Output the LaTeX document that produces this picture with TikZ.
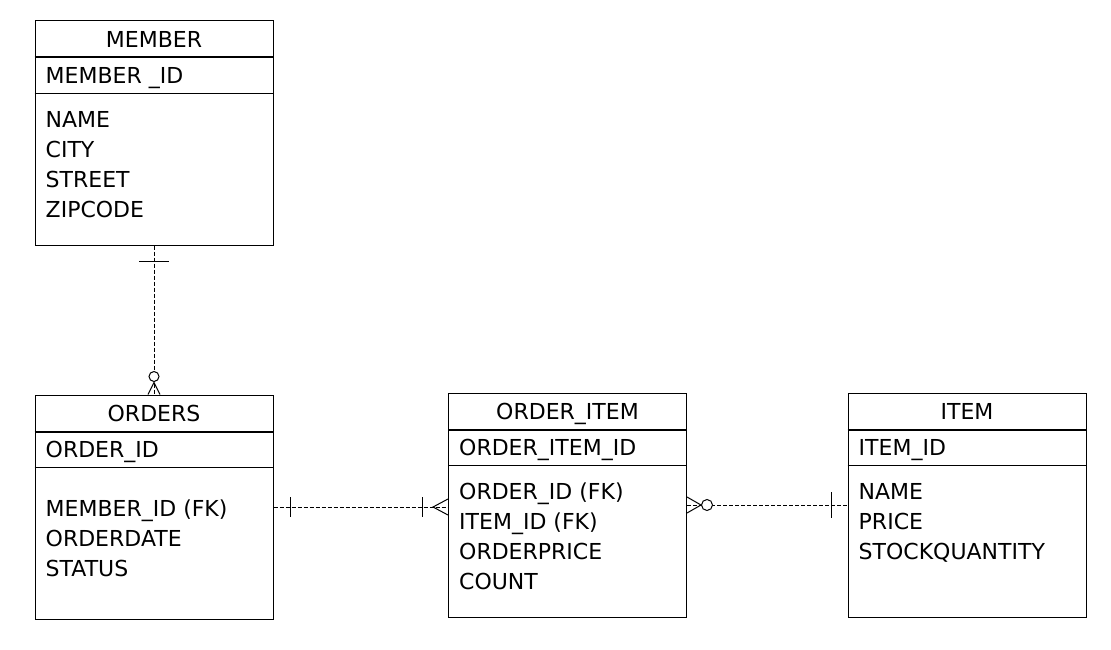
\documentclass[tikz,border=0pt]{standalone}
\usepackage{fontspec}
\setmainfont{DejaVu Sans}
\usetikzlibrary{positioning,calc}
\tikzset{
  table box/.style={
    draw,line width=1pt,minimum width=238pt,minimum height=224pt,inner sep=0pt
  },
  table text/.style={
    inner sep=0pt,font=\fontsize{22}{26}\selectfont
  },
  rel line/.style={
    line width=0.8pt,dash pattern=on 4pt off 2pt
  },
  rel mark/.style={
    line width=1pt
  }
}

\begin{document}
\begin{tikzpicture}[x=1pt,y=-1pt]
  \useasboundingbox (0,0) rectangle (1111,650);

  % tables
  \foreach \n/\x/\y/\t/\k/\d/\fs in {
      member/154/133/MEMBER/MEMBER \_ID/0/{NAME,CITY,STREET,ZIPCODE},
      orders/154/507/ORDERS/ORDER\_ID/15/{MEMBER\_ID (FK),ORDERDATE,STATUS},
      oitem/567.5/505/ORDER\_ITEM/ORDER\_ITEM\_ID/0/{ORDER\_ID (FK),ITEM\_ID (FK),ORDERPRICE,COUNT},
      item/967/505/ITEM/ITEM\_ID/0/{NAME,PRICE,STOCKQUANTITY}} {
    \node[table box] (\n) at (\x,\y) {};
    \draw[line width=2pt] ($(\n.north west)+(0,37)$) -- ($(\n.north east)+(0,37)$);
    \draw[line width=1pt] ($(\n.north west)+(0,73)$) -- ($(\n.north east)+(0,73)$);
    \node[table text,anchor=base] (\n-t) at ($(\n.north)+(0,27)$) {\t};
    \node[table text,anchor=base west] (\n-k) at ($(\n.north west)+(11,63)$) {\k};
    \foreach \f [count=\i] in \fs
      \node[table text,anchor=base west] (\n-f\i) at ($(\n.north west)+(11,77+\d+30*\i)$) {\f};
  }

  % member -- orders
  \draw[rel line] (member.south) -- (orders.north);
  \draw[rel mark] ($(member.south)+(-15,16)$) -- ++(30,0);
  \draw[rel mark] ($(orders.north)+(-6,0)$) -- ($(orders.north)+(0,-12)$) -- ($(orders.north)+(6,0)$);
  \draw[rel mark,fill=white] ($(orders.north)+(0,-18)$) circle (5);

  % orders -- order_item
  \coordinate (oi-in) at (orders.east -| oitem.west);
  \draw[rel line] (orders.east) -- (oi-in);
  \draw[rel mark] ($(orders.east)+(17,-10)$) -- ++(0,20);
  \draw[rel mark] ($(oi-in)+(-26,-10)$) -- ++(0,20);
  \draw[rel mark] ($(oi-in)+(0,-8)$) -- ($(oi-in)+(-15,0)$) -- ($(oi-in)+(0,8)$);

  % order_item -- item
  \draw[rel line] (oitem.east) -- (item.west);
  \draw[rel mark] ($(oitem.east)+(0,-8)$) -- ($(oitem.east)+(14,0)$) -- ($(oitem.east)+(0,8)$);
  \draw[rel mark,fill=white] ($(oitem.east)+(20,0)$) circle (5.5);
  \draw[rel mark] ($(item.west)+(-16,-13)$) -- ++(0,26);
\end{tikzpicture}
\end{document}
